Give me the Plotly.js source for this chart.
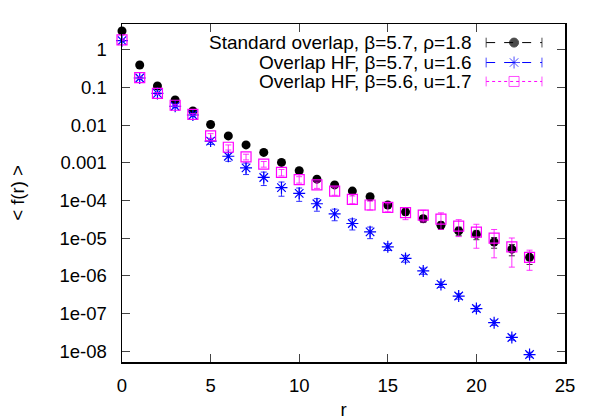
<!DOCTYPE html>
<html>
<head>
<meta charset="utf-8">
<script src="https://cdn.plot.ly/plotly-3.0.1.min.js"></script>
<style>
  html, body { margin: 0; padding: 0; background: #fff; }
  #myPlot { width: 598px; height: 420px; }
</style>
</head>
<body>
<div id="myPlot"></div>
<script>
// ======================== data ==============================================
const rValues = [0, 1, 2, 3, 4, 5, 6, 7, 8, 9, 10, 11, 12, 13, 14, 15, 16, 17, 18, 19, 20, 21, 22, 23];

const stdOverlap = [3.2, 0.4, 0.11, 0.047, 0.024, 0.0105, 0.0052, 0.0030, 0.0019, 0.00103, 6.2e-4, 3.7e-4,
  2.6e-4, 1.78e-4, 1.26e-4, 7.6e-5, 5.0e-5, 3.3e-5, 2.2e-5, 1.56e-5, 1.26e-5, 7.9e-6, 5.1e-6, 3.1e-6];
const stdOverlapErr = [0.1, 0.02, 0.005, 0.003, 0.0015, 7e-4, 4e-4, 2.5e-4, 1.6e-4, 1e-4, 6e-5, 4e-5,
  3e-5, 2.5e-5, 2e-5, 1.2e-5, 9e-6, 7e-6, 5e-6, 4e-6, 3.5e-6, 2.5e-6, 1.7e-6, 1.1e-6];

const hf57 = [1.77, 0.18, 0.07, 0.032, 0.0187, 0.0038, 0.0015, 7.4e-4, 4.1e-4, 2.2e-4, 1.55e-4, 8.2e-5,
  4.4e-5, 2.45e-5, 1.47e-5, 5.9e-6, 2.9e-6, 1.35e-6, 5.9e-7, 2.9e-7, 1.35e-7, 5.7e-8, 2.3e-8, 8.1e-9];
const hf57Err = [0.09, 0.01, 0.004, 0.002, 0.001, 7e-4, 4e-4, 2.5e-4, 1.6e-4, 9e-5, 6e-5, 3e-5,
  1.5e-5, 8e-6, 5e-6, 1.2e-6, 6e-7, 2.5e-7, 1e-7, 5e-8, 2.2e-8, 9e-9, 3.5e-9, 1.2e-9];

const hf56 = [1.85, 0.184, 0.07, 0.034, 0.0195, 0.0052, 0.0026, 0.00145, 9.3e-4, 5.6e-4, 3.6e-4, 2.6e-4,
  1.78e-4, 1.07e-4, 7.6e-5, 6.6e-5, 4.8e-5, 4.1e-5, 3.2e-5, 2.1e-5, 1.44e-5, 1.0e-5, 5.9e-6, 3.1e-6];
const hf56Err = [0.09, 0.01, 0.004, 0.002, 0.001, 7.8e-4, 4e-4, 2.5e-4, 1.6e-4, 1.1e-4, 7e-5, 5e-5,
  4e-5, 2.5e-5, 2e-5, 1.6e-5, 1.7e-5, 1.4e-5, 1.5e-5, 1e-5, 9e-6, 7e-6, 4.2e-6, 1.7e-6];

const seriesNames = [
  "Standard overlap, β=5.7, ρ=1.8",
  "Overlap HF, β=5.7, u=1.6",
  "Overlap HF, β=5.6, u=1.7"
];
const seriesColors = ["#000000", "#0000ff", "#ff00ff"];

const yTickVals = [1e-8, 1e-7, 1e-6, 1e-5, 1e-4, 1e-3, 1e-2, 1e-1, 1];
const yTickText = ["1e-08", "1e-07", "1e-06", "1e-05", "1e-04", "0.001", "0.01", "0.1", "1"];
const xTickVals = [0, 5, 10, 15, 20, 25];

// ======================== traces =========================
const fontFam = "Liberation Sans, Arial, sans-serif";

const data = [
  {
    x: rValues, y: stdOverlap, type: "scatter", mode: "markers", showlegend: false, cliponaxis: false,
    marker: { symbol: "circle", size: 9, color: seriesColors[0] },
    error_y: { type: "data", array: stdOverlapErr, color: seriesColors[0], thickness: 0.8, width: 3 }
  },
  {
    x: rValues, y: hf57, type: "scatter", mode: "markers", showlegend: false, cliponaxis: false,
    marker: { symbol: "asterisk-open", size: 10, color: seriesColors[1], line: { color: seriesColors[1], width: 1.2 } },
    error_y: { type: "data", array: hf57Err, color: seriesColors[1], thickness: 0.8, width: 3 }
  },
  {
    x: rValues, y: hf56, type: "scatter", mode: "markers", showlegend: false, cliponaxis: false,
    marker: { symbol: "square-open", size: 10, color: seriesColors[2], line: { color: seriesColors[2], width: 1.2 } },
    error_y: { type: "data", array: hf56Err, color: seriesColors[2], thickness: 0.8, width: 3 }
  }
];

// legend samples (gnuplot style: text on the left, sample on the right), on hidden axes
const legendRows = [0.945, 0.886, 0.830];
const legendSymbols = ["circle", "asterisk-open", "square-open"];
const legendDash = ["dash", "dash", "dot"];
legendRows.forEach((row, i) => {
  data.push({
    x: [0, 0.5, 1], y: [row, row, row], xaxis: "x2", yaxis: "y2",
    type: "scatter", mode: "lines+markers", showlegend: false, hoverinfo: "skip", cliponaxis: false,
    line: { color: seriesColors[i], width: 1, dash: legendDash[i] },
    marker: {
      symbol: ["line-ns-open", legendSymbols[i], "line-ns-open"],
      size: [7, i === 0 ? 9 : 10, 7],
      color: seriesColors[i],
      line: { color: seriesColors[i], width: 1 }
    }
  });
});

const annotations = seriesNames.map((name, i) => ({
  text: name, xref: "paper", yref: "paper", x: 0.795, y: legendRows[i],
  xanchor: "right", yanchor: "middle", showarrow: false,
  font: { family: fontFam, size: 19, color: "#000" }
}));

const layout = {
  width: 598, height: 420,
  margin: { l: 122, r: 33, t: 24, b: 58, pad: 0 },
  paper_bgcolor: "#fff", plot_bgcolor: "rgba(0,0,0,0)",
  font: { family: fontFam, size: 18.5, color: "#000" },
  showlegend: false,
  xaxis: {
    range: [0, 25], tickvals: xTickVals, ticks: "inside", ticklen: 8, tickwidth: 1,
    showline: true, mirror: "ticks", linecolor: "#000", linewidth: 1.5,
    showgrid: false, zeroline: false, ticklabelstandoff: 6,
    title: { text: "r", font: { family: fontFam, size: 18.5 }, standoff: 12 }
  },
  yaxis: {
    type: "log", range: [-8.29, 0.69], tickvals: yTickVals, ticktext: yTickText,
    ticks: "inside", ticklen: 8, tickwidth: 1,
    showline: true, mirror: "ticks", linecolor: "#000", linewidth: 1.5,
    showgrid: false, zeroline: false, ticklabelstandoff: 10,
    title: { text: "< f(r) >", font: { family: fontFam, size: 18.5 }, standoff: 30 }
  },
  xaxis2: { domain: [0.822, 0.948], range: [0, 1], anchor: "y2", visible: false },
  yaxis2: { domain: [0, 1], range: [0, 1], anchor: "x2", visible: false },
  annotations: annotations
};

Plotly.newPlot("myPlot", data, layout, { displayModeBar: false, staticPlot: true });
</script>
</body>
</html>
